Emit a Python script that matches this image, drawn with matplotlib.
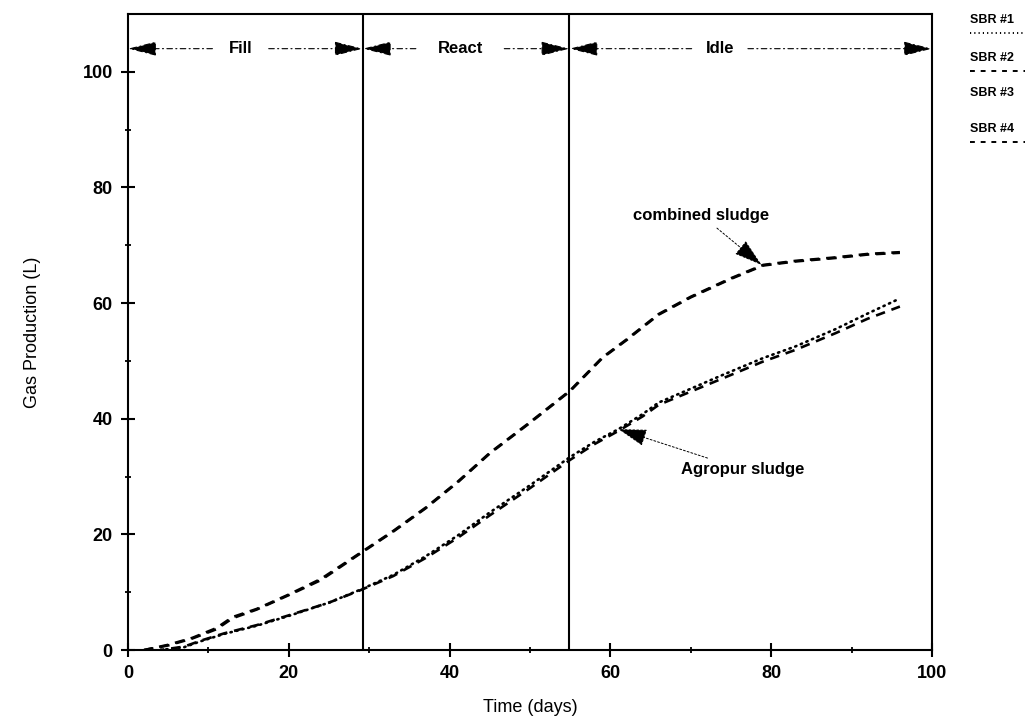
import matplotlib
matplotlib.use("Agg")
import matplotlib.pyplot as plt
from matplotlib.lines import Line2D

plt.rcParams['font.family'] = ['Liberation Sans', 'DejaVu Sans']

# Cumulative gas production (L) versus time (days)
days_combined = [2, 5, 8, 11, 13, 16, 20, 24, 29, 33, 37, 41, 45, 50, 55,
                 59, 62, 66, 70, 75, 79, 83, 88, 92, 96]
sbr2 = [0.0, 0.8, 2.0, 3.6, 5.5, 7.0, 9.5, 12.1, 16.8, 20.5, 24.5, 29.0, 34.0,
        39.3, 44.8, 50.5, 53.6, 58.0, 61.0, 64.2, 66.5, 67.2, 67.8, 68.4, 68.7]
sbr4 = [0.0, 0.9, 2.1, 3.8, 5.7, 7.1, 9.6, 12.3, 16.9, 20.6, 24.6, 29.1, 34.1,
        39.4, 44.9, 50.6, 53.7, 58.1, 61.1, 64.3, 66.6, 67.3, 67.9, 68.5, 68.8]

days_agropur = [4, 7, 9, 12, 16, 20, 25, 29, 33, 37, 41, 45, 50, 55,
                58, 61, 64, 66, 70, 74, 79, 83, 88, 92, 96]
sbr1 = [0.0, 0.5, 1.5, 2.8, 4.2, 5.9, 8.2, 10.5, 13.0, 16.2, 19.8, 23.8, 28.5,
        33.4, 36.0, 38.2, 40.8, 42.8, 45.2, 47.6, 50.5, 52.5, 55.5, 58.2, 60.8]
sbr3 = [0.0, 0.6, 1.6, 2.9, 4.3, 6.0, 8.2, 10.4, 12.8, 15.9, 19.4, 23.3, 28.0,
        32.9, 35.6, 37.9, 40.4, 42.4, 44.7, 47.0, 49.9, 51.9, 54.8, 57.3, 59.4]

phase_bounds = [0, 29.2, 54.9, 100]
phase_names = ["Fill", "React", "Idle"]
phase_label_x = [14, 41.3, 73.6]

xticks = [0, 20, 40, 60, 80, 100]
yticks = [0, 20, 40, 60, 80, 100]

fig = plt.figure(figsize=(10.34, 7.28), dpi=100)
ax = fig.add_axes([0.1238, 0.1071, 0.7776, 0.8737])

lw = 1.9
dash = (3.6, 2.6)
ax.plot(days_agropur, sbr1, color='black', lw=1.9, ls=(0, (0.5, 1.8)),
        dash_capstyle='round')
ax.plot(days_agropur, sbr3, color='black', lw=lw, ls=(2, dash))
ax.plot(days_combined, sbr2, color='black', lw=lw, ls=(0, dash))
ax.plot(days_combined, sbr4, color='black', lw=lw, ls=(0.4, dash))

# phase boundaries
for xb in phase_bounds[1:3]:
    ax.axvline(xb, color='black', lw=1.5)

# phase arrows along the top
y_arr = 104
arrow_kw = dict(arrowstyle='-|>,head_length=1.8,head_width=0.45',
                color='black', lw=0.8, ls=(0, (5, 3, 1, 3)),
                shrinkA=0, shrinkB=0)
gap = [3.5, 5.5, 3.5]
for i, name in enumerate(phase_names):
    x0, x1 = phase_bounds[i], phase_bounds[i + 1]
    xc = phase_label_x[i]
    ax.text(xc, y_arr, name, ha='center', va='center', fontsize=12,
            fontweight='bold')
    ax.annotate('', xy=(x0, y_arr), xytext=(xc - gap[i], y_arr),
                arrowprops=arrow_kw)
    ax.annotate('', xy=(x1, y_arr), xytext=(xc + gap[i], y_arr),
                arrowprops=arrow_kw)

# curve labels
ann_kw = dict(arrowstyle='-|>,head_length=1.5,head_width=0.45',
              color='black', lw=0.7, ls=(0, (2, 2)), shrinkA=3, shrinkB=0)
ax.annotate('combined sludge', xy=(78.8, 66.6), xytext=(71.3, 75.2),
            ha='center', va='center', fontsize=12, fontweight='bold',
            arrowprops=ann_kw)
ax.annotate('Agropur sludge', xy=(61.0, 38.2), xytext=(76.5, 31.2),
            ha='center', va='center', fontsize=12, fontweight='bold',
            arrowprops=ann_kw)

ax.set_xlim(0, 100)
ax.set_ylim(0, 110)
ax.set_xticks(xticks)
ax.set_yticks(yticks)
ax.set_xticks(range(10, 100, 20), minor=True)
ax.set_yticks(range(10, 110, 20), minor=True)
ax.tick_params(axis='both', which='major', direction='inout', length=10,
               width=1.5, labelsize=13, pad=6)
ax.tick_params(axis='both', which='minor', direction='inout', length=5,
               width=1.3)
for lab in ax.get_xticklabels() + ax.get_yticklabels():
    lab.set_fontweight('bold')
for s in ax.spines.values():
    s.set_linewidth(1.5)

ax.set_xlabel('Time (days)', fontsize=13, labelpad=12)
ax.set_ylabel('Gas Production (L)', fontsize=13, labelpad=30)

# series key in the upper right corner
key_x0 = 0.938
key_names = ['SBR #1', 'SBR #2', 'SBR #3', 'SBR #4']
key_y = [0.972, 0.921, 0.872, 0.823]
key_styles = [(0, (0.6, 1.6)), (0, (2.5, 3)), None, (0, (2.5, 3))]
for name, yk, st in zip(key_names, key_y, key_styles):
    fig.text(key_x0, yk, name, fontsize=9, ha='left', va='center',
             fontweight='bold')
    if st is not None:
        fig.add_artist(Line2D([key_x0, key_x0 + 0.053], [yk - 0.018] * 2,
                              color='black', lw=1.4, ls=st,
                              transform=fig.transFigure))

fig.savefig('out.png', dpi=100)
